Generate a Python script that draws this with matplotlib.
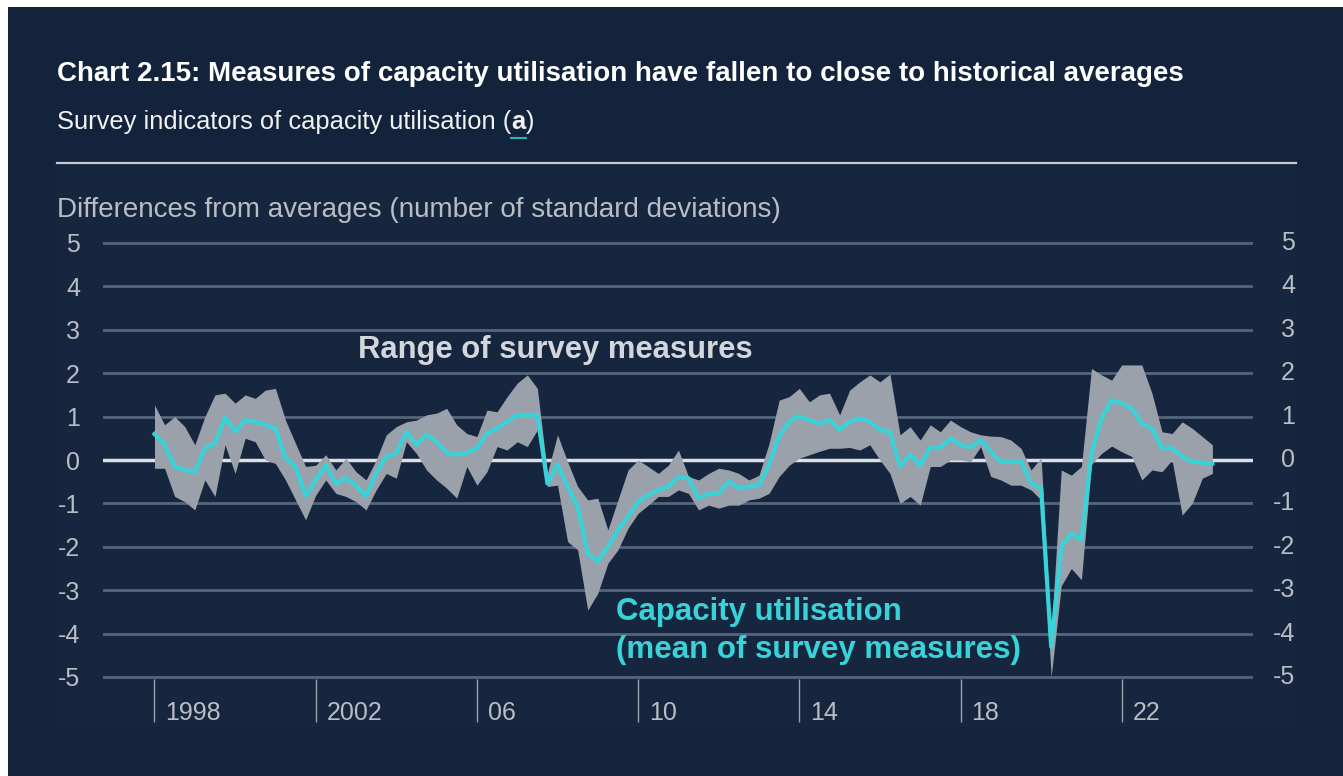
import numpy as np
import matplotlib
matplotlib.use("Agg")
import matplotlib.pyplot as plt
from matplotlib.patches import Rectangle
from matplotlib.transforms import blended_transform_factory, offset_copy

plt.rcParams['font.family'] = ['Liberation Sans', 'DejaVu Sans']
plt.rcParams['axes.unicode_minus'] = False

W, H, DPI = 1343, 776, 100

# quarterly data, 1998 Q1 onwards (standard deviations from average)
start_year = 1998
mean_vals = [0.60, 0.35, -0.15, -0.23, -0.27, 0.27, 0.38, 0.98, 0.65, 0.92,
             0.88, 0.81, 0.73, 0.04, -0.15, -0.83, -0.46, -0.12, -0.54, -0.42,
             -0.58, -0.83, -0.31, 0.08, 0.15, 0.65, 0.35, 0.58, 0.42, 0.17,
             0.12, 0.17, 0.27, 0.61, 0.73, 0.88, 1.04, 1.04, 1.04, -0.54,
             -0.10, -0.61, -1.08, -2.15, -2.34, -2.00, -1.61, -1.31, -0.96, -0.81,
             -0.69, -0.61, -0.40, -0.42, -0.88, -0.78, -0.77, -0.50, -0.65, -0.61,
             -0.58, -0.10, 0.54, 0.88, 1.01, 0.92, 0.84, 0.92, 0.69, 0.88,
             0.96, 0.88, 0.69, 0.65, -0.15, 0.12, -0.12, 0.29, 0.29, 0.50,
             0.35, 0.29, 0.46, 0.19, -0.04, -0.04, -0.04, -0.54, -0.65, -4.30,
             -2.00, -1.69, -1.84, 0.15, 0.96, 1.38, 1.31, 1.19, 0.84, 0.73,
             0.27, 0.27, 0.08, -0.04, -0.06, -0.08]
range_top = [1.27, 0.81, 1.00, 0.77, 0.35, 1.00, 1.50, 1.54, 1.31, 1.50,
             1.42, 1.61, 1.65, 0.92, 0.38, -0.15, -0.12, 0.12, -0.23, 0.04,
             -0.27, -0.46, 0.00, 0.58, 0.77, 0.88, 0.92, 1.04, 1.08, 1.19,
             0.81, 0.61, 0.54, 1.15, 1.11, 1.46, 1.77, 1.96, 1.65, -0.30,
             0.58, -0.04, -0.61, -0.92, -0.88, -1.61, -0.92, -0.23, 0.00, -0.15,
             -0.31, -0.12, 0.23, -0.38, -0.46, -0.31, -0.19, -0.23, -0.31, -0.46,
             -0.35, 0.38, 1.38, 1.46, 1.65, 1.34, 1.50, 1.54, 1.04, 1.61,
             1.80, 1.96, 1.80, 1.98, 0.58, 0.77, 0.46, 0.81, 0.65, 0.92,
             0.77, 0.65, 0.58, 0.55, 0.54, 0.46, 0.27, -0.23, 0.05, -4.00,
             -0.23, -0.35, -0.15, 2.11, 1.96, 1.84, 2.19, 2.19, 2.19, 1.54,
             0.65, 0.61, 0.88, 0.73, 0.54, 0.35]
range_bottom = [-0.19, -0.19, -0.84, -0.96, -1.15, -0.46, -0.84, 0.35, -0.31, 0.50,
                0.42, 0.00, -0.08, -0.46, -0.92, -1.38, -0.81, -0.46, -0.77, -0.84,
                -0.96, -1.15, -0.69, -0.31, -0.42, 0.42, 0.15, -0.23, -0.46, -0.65,
                -0.88, -0.15, -0.58, -0.27, 0.31, 0.23, 0.42, 0.31, 0.69, -0.61,
                -0.58, -1.88, -2.07, -3.46, -3.07, -2.38, -2.07, -1.57, -1.23, -1.04,
                -0.84, -0.84, -0.69, -0.77, -1.15, -1.04, -1.11, -1.04, -1.04, -0.92,
                -0.88, -0.77, -0.38, -0.12, 0.04, 0.12, 0.20, 0.27, 0.27, 0.29,
                0.23, 0.35, 0.00, -0.31, -1.00, -0.84, -1.04, -0.15, -0.15, 0.00,
                0.00, -0.04, 0.31, -0.38, -0.46, -0.58, -0.58, -0.69, -0.92, -5.00,
                -2.90, -2.50, -2.76, -0.10, 0.15, 0.32, 0.19, 0.08, -0.46, -0.23,
                -0.27, 0.00, -1.27, -1.00, -0.42, -0.31]
quarters = start_year + np.arange(len(mean_vals)) / 4

tick_years = [1998, 2002, 2006, 2010, 2014, 2018, 2022]
tick_labels = ["1998", "2002", "06", "10", "14", "18", "22"]
y_ticks = list(range(-5, 6))

BG = "#13233c"
PANEL = "#16263f"
GRID = "#55657c"
ZERO = "#dcdfe3"
BAND = "#9ba1aa"
CYAN = "#38d3d8"
TXT_GREY = "#b9bdc4"

fig = plt.figure(figsize=(W / DPI, H / DPI), dpi=DPI, facecolor="white")
renderer = fig.canvas.get_renderer()


def fx(x):
    return x / W


def fy(y):
    return 1 - y / H


def fit(t, width):
    w = t.get_window_extent(renderer).width
    t.set_fontsize(t.get_fontsize() * width / w)
    return t


# dark background and slightly lighter chart panel
fig.patches.append(Rectangle((fx(8), 0), 1, fy(7), transform=fig.transFigure,
                             facecolor=BG, edgecolor="none", zorder=-10))
fig.patches.append(Rectangle((fx(56), fy(727)), fx(1296 - 56), (727 - 165) / H,
                             transform=fig.transFigure, facecolor=PANEL,
                             edgecolor="none", zorder=-9))
fig.add_artist(plt.Line2D([fx(57), fx(1296)], [fy(163), fy(163)], color="#c9cdd3",
                          lw=1.6, transform=fig.transFigure))

# titles
title = fig.text(fx(57), fy(74), "Chart 2.15: Measures of capacity utilisation have fallen "
                 "to close to historical averages", color="white", fontsize=17,
                 fontweight="bold", va="center", ha="left")
fit(title, 1129)

sub_full = "Survey indicators of capacity utilisation (a)"
tmp = fig.text(fx(57), fy(122), sub_full, fontsize=17)
fit(tmp, 478)
sub_fs = tmp.get_fontsize()
tmp.remove()
part1 = fig.text(fx(57), fy(122), "Survey indicators of capacity utilisation (",
                 color="#f2f2f2", fontsize=sub_fs, va="center", ha="left")
x1 = part1.get_window_extent(renderer).x1
part_a = fig.text(x1 / W, fy(122), "a", color="#f2f2f2", fontsize=sub_fs,
                  fontweight="bold", va="center", ha="left")
bb_a = part_a.get_window_extent(renderer)
fig.text(bb_a.x1 / W, fy(122), ")", color="#f2f2f2", fontsize=sub_fs,
         va="center", ha="left")
fig.add_artist(plt.Line2D([bb_a.x0 / W, bb_a.x1 / W], [fy(138), fy(138)],
                          color="#2bb3b8", lw=1.5, transform=fig.transFigure))

ylab = fig.text(fx(57), fy(210), "Differences from averages (number of standard deviations)",
                color=TXT_GREY, fontsize=17, va="center", ha="left")
fit(ylab, 726)

# main axes
pad = 0.04
ax = fig.add_axes([fx(103), fy(677 + pad * 43.4), fx(1253 - 103), (434 + 2 * pad * 43.4) / H])
ax.set_facecolor("none")
ax.set_xlim(1998 + (103 - 154.5) / 40.3, 1998 + (1253 - 154.5) / 40.3)
ax.set_ylim(-5 - pad, 5 + pad)
for s in ax.spines.values():
    s.set_visible(False)

ax.set_yticks(y_ticks, [str(v) for v in y_ticks])
ax.tick_params(axis="y", length=0, pad=16.5, labelsize=18, labelcolor=TXT_GREY)
ax.yaxis.grid(True, color=GRID, lw=2)
ax.set_axisbelow(True)
ax.axhline(0, color=ZERO, lw=2.5, zorder=1)

ax.set_xticks(tick_years)
ax.tick_params(axis="x", length=31, width=1, color="#9aa2ad", direction="out",
               labelbottom=False)

right_tr = offset_copy(blended_transform_factory(ax.transAxes, ax.transData),
                       fig=fig, x=42, y=0, units="dots")
for v in y_ticks:
    ax.text(1, v, str(v), transform=right_tr, ha="right", va="center",
            fontsize=18, color=TXT_GREY)

x_tr = offset_copy(blended_transform_factory(ax.transData, ax.transAxes),
                   fig=fig, x=11, y=-34, units="dots")
for yr, lab in zip(tick_years, tick_labels):
    ax.text(yr, 0, lab, transform=x_tr, ha="left", va="center",
            fontsize=18, color=TXT_GREY)

ax.fill_between(quarters, range_bottom, range_top, color=BAND, lw=0, zorder=2)
ax.plot(quarters, mean_vals, color=CYAN, lw=3, zorder=3, solid_joinstyle="round")

# series labels
rl = fig.text(fx(358), fy(350), "Range of survey measures", color="#d3d6db",
              fontsize=20, fontweight="bold", va="center", ha="left")
fit(rl, 394)
c2 = fig.text(fx(616), fy(650), "(mean of survey measures)", color=CYAN,
              fontsize=20, fontweight="bold", va="center", ha="left")
fit(c2, 404)
fig.text(fx(616), fy(612), "Capacity utilisation", color=CYAN,
         fontsize=c2.get_fontsize(), fontweight="bold", va="center", ha="left")

fig.savefig("out.png", dpi=DPI, facecolor=fig.get_facecolor())
